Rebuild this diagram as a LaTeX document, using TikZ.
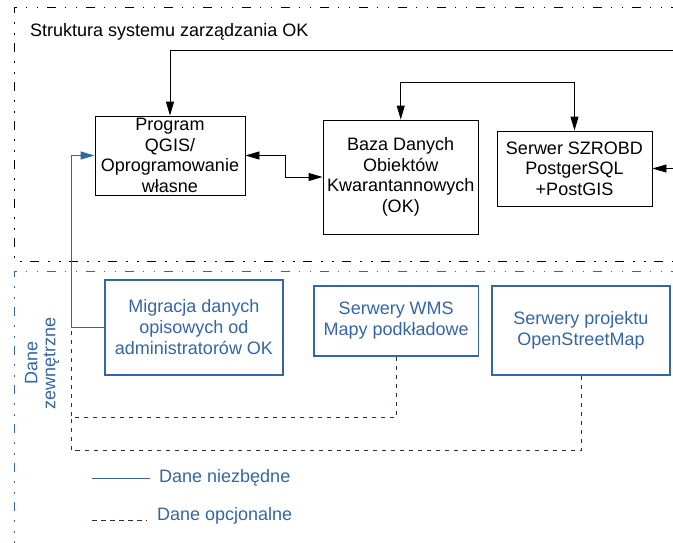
\documentclass[tikz,border=0pt]{standalone}
\usepackage{fontspec}
\setmainfont{Liberation Sans}
\usetikzlibrary{positioning,arrows.meta}
\definecolor{dataBlue}{RGB}{52,101,164}
\definecolor{optionalBlue}{RGB}{33,48,82}
\tikzstyle{pixels} = [x = 1pt, y = -1pt]
\tikzstyle{frameLine} = [line width = 1pt, dash pattern = on 9pt off 9pt on 1.5pt off 9.5pt on 1.5pt off 8.5pt]
\tikzstyle{systemBox} = [draw, line width = 0.9pt, align = center, inner sep = 0pt, font = \fontsize{18}{20.5}\selectfont]
\tikzstyle{externalBox} = [draw = dataBlue, text = dataBlue, line width = 1.1pt, align = center, inner sep = 0pt, font = \fontsize{18}{21}\selectfont]
\tikzstyle{arrowEnd} = [line width = 0.9pt, -{Triangle[length = 14pt, width = 8pt]}]
\tikzstyle{arrowBoth} = [line width = 0.9pt, {Triangle[length = 14pt, width = 8pt]}-{Triangle[length = 14pt, width = 8pt]}]
\tikzstyle{requiredLine} = [color = dataBlue, line width = 1pt]
\tikzstyle{optionalLine} = [color = optionalBlue, line width = 0.9pt, dash pattern = on 4.5pt off 4.5pt]
\tikzstyle{legendText} = [text = dataBlue, anchor = west, inner sep = 0pt, font = \fontsize{18}{20}\selectfont]
\begin{document}
\begin{tikzpicture}[pixels]
  \useasboundingbox (0,0) rectangle (673,542);
  \draw [frameLine] (680,7) -- (14,7) -- (14,261) -- (680,261);
  \draw [frameLine, color = dataBlue] (680,271) -- (14,271) -- (14,550);
  \node [anchor = west, inner sep = 0pt, font = \fontsize{18}{20}\selectfont] (title) at (30,32) {Struktura systemu zarządzania OK};

  \node [systemBox, minimum width = 150pt, minimum height = 79pt] (program) at (170,155.5) {Program\\QGIS/\\Oprogramowanie\\własne};
  \node [systemBox, minimum width = 155.5pt, minimum height = 114pt] (baza) at (400.75,177) {Baza Danych\\Obiektów\\Kwarantannowych\\(OK)};
  \node [systemBox, minimum width = 155pt, minimum height = 75pt] (serwer) at (574.5,168.5) {Serwer SZROBD\\PostgerSQL\\+PostGIS};

  \node [externalBox, minimum width = 178pt, minimum height = 95pt] (migracja) at (194,327.5) {Migracja danych\\opisowych od\\administratorów OK};
  \node [externalBox, minimum width = 164.5pt, minimum height = 70pt] (wms) at (396.25,321) {Serwery WMS\\Mapy podkładowe};
  \node [externalBox, minimum width = 178pt, minimum height = 89pt] (osm) at (581,330.5) {Serwery projektu\\OpenStreetMap};

  \node [rotate = 90, text = dataBlue, align = center, inner sep = 0pt, font = \fontsize{18}{18}\selectfont] (external) at (42,363) {Dane\\zewnętrzne};

  \coordinate (topRight) at (680,50);
  \coordinate (serwerIn) at (680,168.5);
  \draw [arrowEnd] (topRight) -| (program.north);
  \draw [arrowBoth] (baza.north) -- ++(0,-37) -| (serwer.north);
  \draw [arrowEnd] (serwerIn) -- (serwer.east);
  \draw [arrowBoth] (program.east) -- ++(40,0) |- (baza.west);

  \draw [requiredLine, arrowEnd, line width = 1pt] (migracja.west) -- ++(-33,0) coordinate (joint) |- (program.west);
  \draw [optionalLine] (wms.south) -- ++(0,61) coordinate (wmsTurn) -| (joint);
  \draw [optionalLine] (osm.south) -- ++(0,75) -| (joint |- wmsTurn);

  \draw [requiredLine] (92,478) -- (150,478);
  \node [legendText] (required) at (159,478) {Dane niezbędne};
  \draw [optionalLine] (92,520) -- (147,520);
  \node [legendText] (optional) at (157,516) {Dane opcjonalne};
\end{tikzpicture}
\end{document}
